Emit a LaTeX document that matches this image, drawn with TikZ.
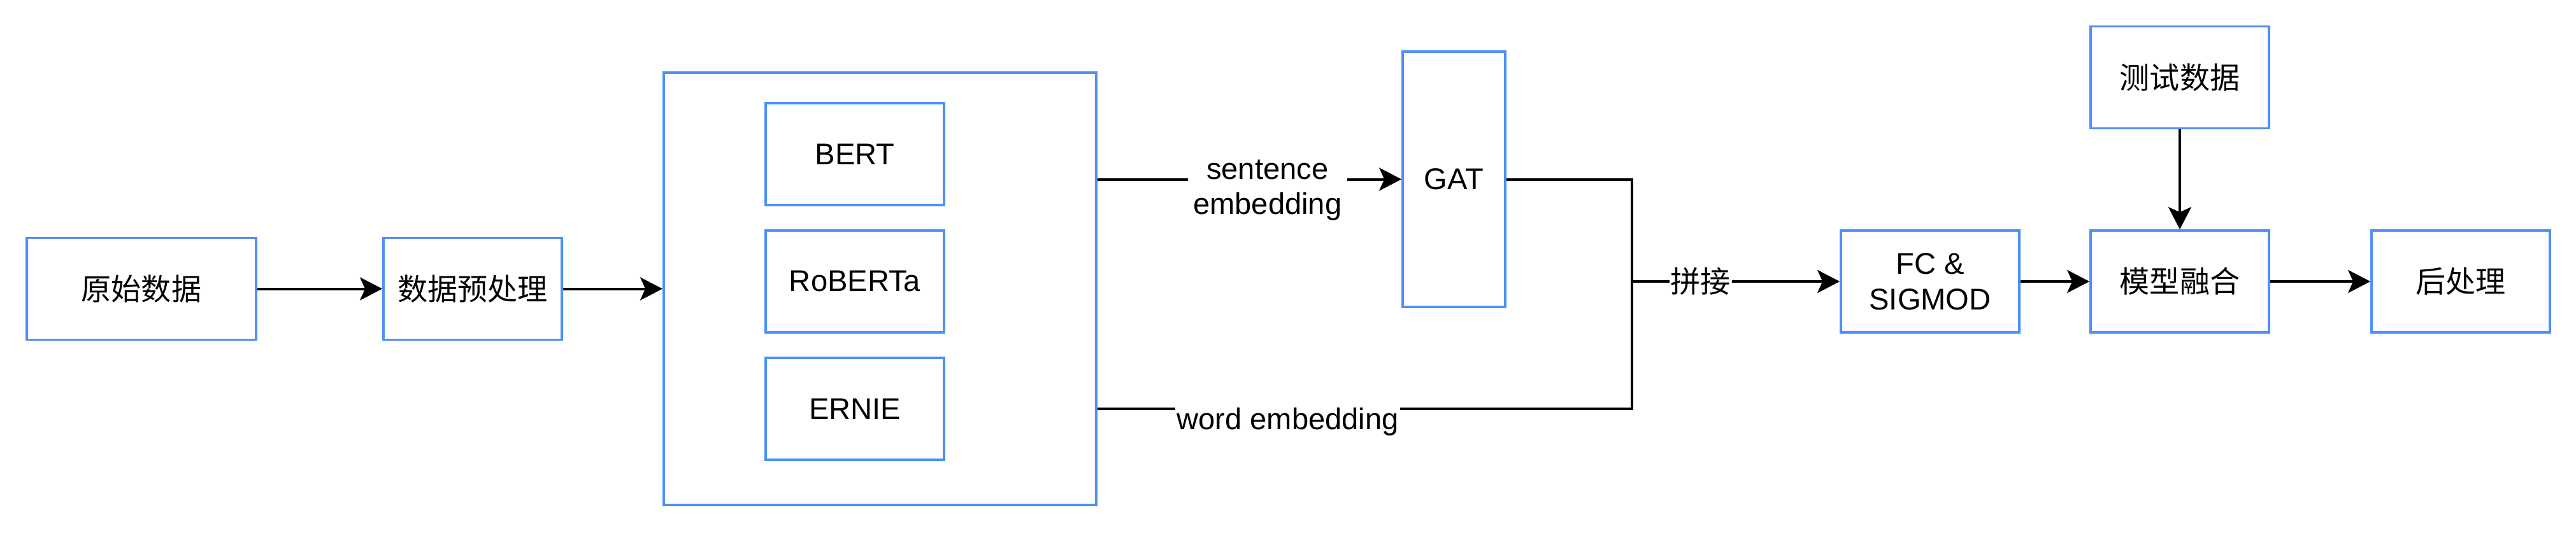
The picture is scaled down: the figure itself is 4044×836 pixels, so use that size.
\documentclass[tikz,border=0pt]{standalone}
\usepackage{fontspec}
\setmainfont{Liberation Sans}
\newfontfamily\cjk{Noto Sans CJK SC}
\usetikzlibrary{arrows.meta,calc}
\definecolor{boxblue}{RGB}{77,144,248}
\newcommand\fsz{\fontsize{13.4}{15.8}\selectfont}
\begin{document}
\begin{tikzpicture}[x=0.01cm,y=-0.01cm,
  box/.style={draw=boxblue,line width=0.035cm,minimum width=2.8cm,minimum height=1.6cm,inner sep=0pt,font=\fsz},
  conn/.style={line width=0.04cm},
  arr/.style={conn,-{Stealth[length=0.35cm,width=0.36cm,inset=0.08cm]}},
  lbl/.style={fill=white,inner xsep=0.02cm,inner ysep=0.03cm,font=\fsz}]
\useasboundingbox (0,0) rectangle (4044,836);
% boxes
\node[box,minimum width=3.6cm] (raw) at (222,453.5) {\cjk 原始数据};
\node[box] (pre) at (742,453.5) {\cjk 数据预处理};
\node[box,minimum width=6.79cm,minimum height=6.79cm] (big) at (1381.5,453.5) {};
\node[box] (bert) at (1342,242) {BERT};
\node[box] (roberta) at (1342,442) {RoBERTa};
\node[box] (ernie) at (1342,642) {ERNIE};
\node[box,minimum width=1.61cm,minimum height=4.01cm] (gat) at (2282.5,281.5) {GAT};
\node[box,align=center] (fc) at (3030,442) {FC \&\\SIGMOD};
\node[box] (fuse) at (3422,442) {\cjk 模型融合};
\node[box] (post) at (3863,442) {\cjk 后处理};
\node[box] (test) at (3422,121.5) {\cjk 测试数据};
\coordinate (j) at (2562,442);
% connectors
\draw[arr] (raw) -- (pre);
\draw[arr] (pre) -- (big.west |- pre.east);
\draw[arr] (big.east |- gat.west) -- node[lbl,pos=0.559,yshift=-0.17cm,align=center,inner xsep=0.085cm]{sentence\\embedding} (gat.west);
\draw[arr] (gat.east) -| (j) -- node[lbl,pos=0.33]{\cjk 拼接} (fc.west);
\draw[conn] (big.east |- ernie.center) -- node[lbl,pos=0.356,yshift=-0.2cm]{word embedding} (j |- ernie.center) -- (j);
\draw[arr] (fc) -- (fuse);
\draw[arr] (fuse) -- (post);
\draw[arr] (test) -- (fuse);
\end{tikzpicture}
\end{document}
